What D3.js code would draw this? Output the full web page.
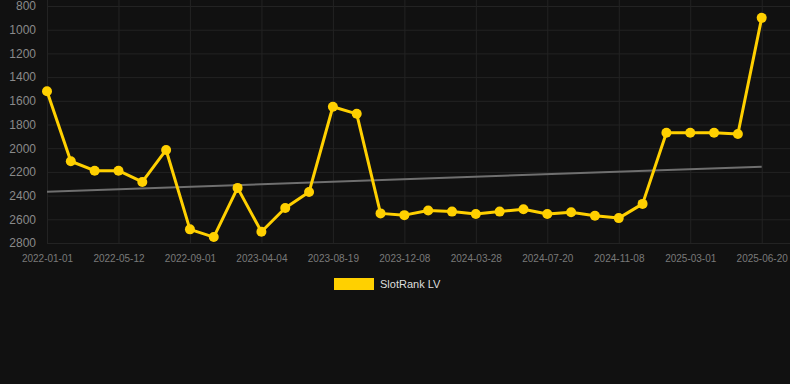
<!DOCTYPE html>
<html>
<head>
<meta charset="utf-8">
<script src="https://cdn.jsdelivr.net/npm/d3@7"></script>
<style>
  html, body { margin: 0; padding: 0; background: #111111; }
  svg { display: block; font-family: "Liberation Sans", Arial, sans-serif; }
</style>
</head>
<body>
<script>
// rank values, one per sample (lower number = better rank)
var rankValues = [1520, 2110, 2190, 2190, 2285, 2015, 2685, 2750, 2335, 2705,
                  2505, 2370, 1650, 1710, 2550, 2565, 2525, 2535, 2555, 2535,
                  2515, 2555, 2540, 2570, 2590, 2470, 1870, 1870, 1870, 1880, 900];

// labels shown on the x axis, every third sample
var tickLabels = ['2022-01-01', '2022-05-12', '2022-09-01', '2023-04-04', '2023-08-19',
                  '2023-12-08', '2024-03-28', '2024-07-20', '2024-11-08', '2025-03-01', '2025-06-20'];
var tickStep = 3;

// trend line, start and end values
var trendValues = [2367, 2156];

var yTicks = [800, 1000, 1200, 1400, 1600, 1800, 2000, 2200, 2400, 2600, 2800];

var seriesName = 'SlotRank LV';

var width = 790, height = 384;
var plotLeft = 47, plotRight = 761.7, plotTop = 6, plotBottom = 243;
var yellow = '#ffd000';

var svg = d3.select('body').append('svg')
  .attr('width', width)
  .attr('height', height);

svg.append('rect').attr('width', width).attr('height', height).attr('fill', '#111111');

var idx = d3.range(rankValues.length);

var x = d3.scalePoint()
  .domain(idx)
  .range([plotLeft, plotRight]);

var y = d3.scaleLinear()
  .domain([800, 2800])
  .range([plotTop, plotBottom]);

// y axis + horizontal grid
var yAxis = svg.append('g')
  .attr('transform', 'translate(' + plotLeft + ',0)')
  .call(d3.axisLeft(y).tickValues(yTicks).tickSize(-(width - plotLeft)).tickPadding(11).tickFormat(d3.format('d')));
yAxis.select('.domain').remove();
yAxis.selectAll('line').attr('stroke', '#232323');
yAxis.selectAll('text').attr('fill', '#8a8a8a').style('font-size', '12px');

// x axis + vertical grid
var xAxis = svg.append('g')
  .attr('transform', 'translate(0,' + plotBottom + ')')
  .call(d3.axisBottom(x)
    .tickValues(idx.filter(function (i) { return i % tickStep === 0; }))
    .tickFormat(function (i) { return tickLabels[i / tickStep]; })
    .tickSize(-plotBottom)
    .tickPadding(12));
xAxis.select('.domain').remove();
xAxis.selectAll('line').attr('stroke', '#232323');
xAxis.selectAll('text').attr('fill', '#7a7a7a').style('font-size', '10px');

// trend line
svg.append('line')
  .attr('x1', x(0)).attr('x2', x(idx.length - 1))
  .attr('y1', y(trendValues[0])).attr('y2', y(trendValues[1]))
  .attr('stroke', '#6f6f6f')
  .attr('stroke-width', 2);

// series line
var line = d3.line()
  .x(function (d, i) { return x(i); })
  .y(function (d) { return y(d); });

svg.append('path')
  .datum(rankValues)
  .attr('d', line)
  .attr('fill', 'none')
  .attr('stroke', yellow)
  .attr('stroke-width', 3)
  .attr('stroke-linejoin', 'round');

svg.selectAll('circle.pt')
  .data(rankValues)
  .enter()
  .append('circle')
  .attr('class', 'pt')
  .attr('cx', function (d, i) { return x(i); })
  .attr('cy', function (d) { return y(d); })
  .attr('r', 5)
  .attr('fill', yellow);

// legend
var legend = svg.append('g').attr('transform', 'translate(334,278)');
legend.append('rect').attr('width', 40).attr('height', 12).attr('fill', yellow);
legend.append('text')
  .attr('x', 46).attr('y', 6)
  .attr('dy', '0.35em')
  .attr('fill', '#dddddd')
  .style('font-size', '11px')
  .text(seriesName);
</script>
</body>
</html>
